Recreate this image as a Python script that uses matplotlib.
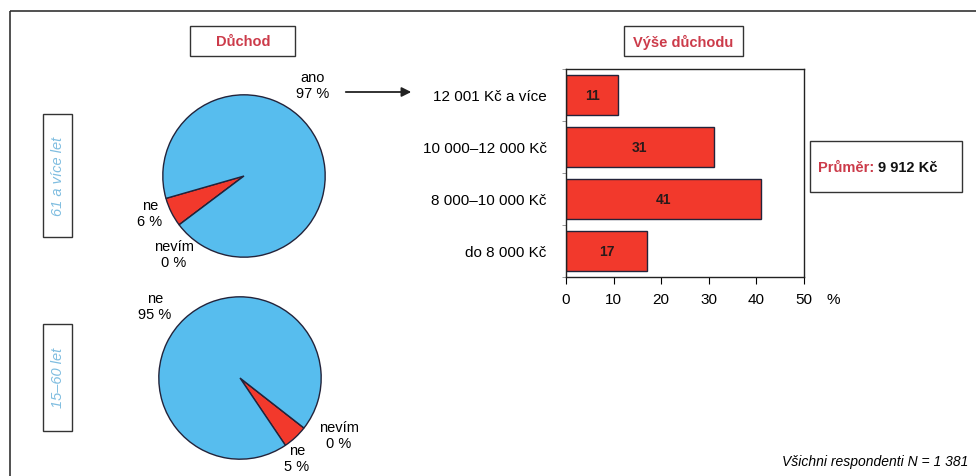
import numpy as np
import matplotlib.pyplot as plt
from matplotlib.patches import Rectangle

# data
pie_old_labels = ["ne", "nevím", "ano"]
pie_old_values = [6, 0, 97]
pie_young_labels = ["ne", "nevím", "ne"]
pie_young_values = [5, 0, 95]

bar_cats = ["12 001 Kč a více", "10 000–12 000 Kč", "8 000–10 000 Kč", "do 8 000 Kč"]
bar_vals = [11, 31, 41, 17]
x_ticks = [0, 10, 20, 30, 40, 50]

W, H = 976, 477
BLUE = "#57bdee"
RED = "#f2392c"
EDGE = "#23233a"
TITLE_RED = "#cc3b4a"
SIDE_BLUE = "#7fbde0"

plt.rcParams['font.family'] = ['Liberation Sans', 'DejaVu Sans']

fig = plt.figure(figsize=(W / 100, H / 100), dpi=100)


def box(x0, y0, x1, y1):
    # axes rect from pixel corners (top-left origin)
    return [x0 / W, 1 - y1 / H, (x1 - x0) / W, (y1 - y0) / H]


# overlay for frames / labels, pixel coordinates
ov = fig.add_axes([0, 0, 1, 1])
ov.set_xlim(0, W)
ov.set_ylim(H, 0)
ov.axis("off")

ov.add_patch(Rectangle((10, 12), 1000, 480, fill=False, ec="#333333", lw=1.2))

# title boxes
ov.add_patch(Rectangle((190, 27), 105, 30, fill=False, ec="#333333", lw=1))
ov.text(243, 42, "Důchod", color=TITLE_RED, fontsize=10.5, fontweight="bold",
        ha="center", va="center")
ov.add_patch(Rectangle((624, 27), 119, 30, fill=False, ec="#333333", lw=1))
ov.text(683, 42, "Výše důchodu", color=TITLE_RED, fontsize=10.5, fontweight="bold",
        ha="center", va="center")

# side boxes
ov.add_patch(Rectangle((43, 115), 29, 123, fill=False, ec="#333333", lw=1))
ov.text(57.5, 176, "61 a více let", color=SIDE_BLUE, fontsize=10.5, style="italic",
        rotation=90, ha="center", va="center")
ov.add_patch(Rectangle((43, 325), 29, 107, fill=False, ec="#333333", lw=1))
ov.text(57.5, 378, "15–60 let", color=SIDE_BLUE, fontsize=10.5, style="italic",
        rotation=90, ha="center", va="center")

# top pie
ax1 = fig.add_axes(box(162, 95, 326, 259))
ax1.pie(pie_old_values, colors=[RED, "#e8d050", BLUE], startangle=196,
        counterclock=True, wedgeprops=dict(edgecolor=EDGE, linewidth=1))
ax1.set_xlim(-1.01, 1.01)
ax1.set_ylim(-1.01, 1.01)

ov.text(313, 86, f"{pie_old_labels[2]}\n{pie_old_values[2]} %", fontsize=10.5,
        ha="center", va="center", linespacing=1.1)
ov.text(150, 214, f"{pie_old_labels[0]}\n{pie_old_values[0]} %", fontsize=10.5,
        ha="center", va="center", linespacing=1.1)
ov.text(174, 255, f"{pie_old_labels[1]}\n{pie_old_values[1]} %", fontsize=10.5,
        ha="center", va="center", linespacing=1.1)

# bottom pie
ax2 = fig.add_axes(box(158, 297, 322, 461))
ax2.pie(pie_young_values, colors=[RED, "#e8d050", BLUE], startangle=304,
        counterclock=True, wedgeprops=dict(edgecolor=EDGE, linewidth=1))
ax2.set_xlim(-1.01, 1.01)
ax2.set_ylim(-1.01, 1.01)

ov.text(155, 307, f"{pie_young_labels[2]}\n{pie_young_values[2]} %", fontsize=10.5,
        ha="center", va="center", linespacing=1.1)
ov.text(339, 436, f"{pie_young_labels[1]}\n{pie_young_values[1]} %", fontsize=10.5,
        ha="center", va="center", linespacing=1.1)
ov.text(297, 459, f"{pie_young_labels[0]}\n{pie_young_values[0]} %", fontsize=10.5,
        ha="center", va="center", linespacing=1.1)

# arrow
ov.annotate("", xy=(414, 93), xytext=(343, 93),
            arrowprops=dict(arrowstyle="-|>", color="#222222", lw=1.3,
                            mutation_scale=14))

# bar chart
ax3 = fig.add_axes(box(566, 70, 804, 278))
y = np.arange(len(bar_cats))
ax3.barh(y, bar_vals, height=0.76, color=RED, edgecolor=EDGE, linewidth=1)
for yi, v in zip(y, bar_vals):
    ax3.text(v / 2, yi, str(v), ha="center", va="center", fontsize=10,
             fontweight="bold", color="#2a1a1a")
ax3.set_xlim(0, 50)
ax3.set_ylim(3.5, -0.5)
ax3.set_xticks(x_ticks)
ax3.set_xticklabels([str(t) for t in x_ticks], fontsize=11)
ax3.set_yticks(y)
ax3.set_yticklabels(bar_cats, fontsize=11)
ax3.tick_params(axis="y", length=0, pad=14)
ax3.set_yticks(np.arange(-0.5, 4, 1), minor=True)
ax3.tick_params(axis="y", which="minor", length=3, color="#888888")
ax3.tick_params(axis="x", length=5, pad=6)
for s in ax3.spines.values():
    s.set_color("#222222")
    s.set_linewidth(1)
ov.text(833, 300, "%", fontsize=11, ha="center", va="center")

# average box
ov.add_patch(Rectangle((810, 142), 152, 51, fill=False, ec="#333333", lw=1))
ov.text(818, 168, "Průměr:", color=TITLE_RED, fontsize=10.5, fontweight="bold",
        ha="left", va="center")
ov.text(878, 168, "9 912 Kč", color="#111111", fontsize=10.5, fontweight="bold",
        ha="left", va="center")

ov.text(968, 462, "Všichni respondenti N = 1 381", fontsize=10, style="italic",
        ha="right", va="center")

fig.savefig("out.png", dpi=100)
